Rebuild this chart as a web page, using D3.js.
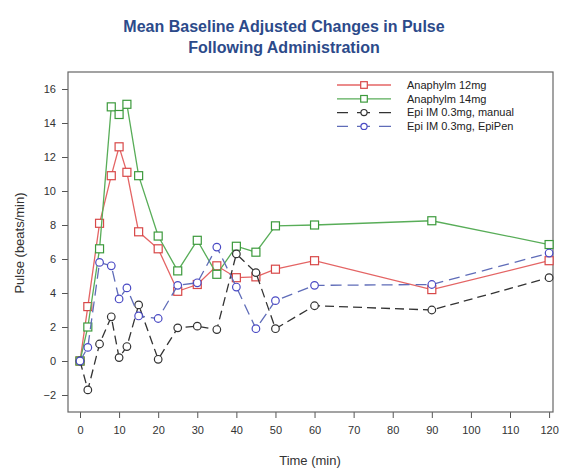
<!DOCTYPE html>
<html>
<head>
<meta charset="utf-8">
<script src="https://cdn.jsdelivr.net/npm/d3@7"></script>
<style>
  body { margin: 0; background: #fff; }
  text { font-family: "Liberation Sans", Arial, sans-serif; }
</style>
</head>
<body>
<div id="chart"></div>
<script>
// Data
const times = [0, 2, 5, 8, 10, 12, 15, 20, 25, 30, 35, 40, 45, 50, 60, 90, 120];
const anaphylm12 = [0, 3.2, 8.1, 10.9, 12.6, 11.1, 7.6, 6.6, 4.1, 4.5, 5.6, 4.9, 4.95, 5.4, 5.9, 4.2, 5.9];
const anaphylm14 = [0, 2.0, 6.6, 14.95, 14.5, 15.1, 10.9, 7.35, 5.3, 7.1, 5.1, 6.75, 6.4, 7.95, 8.0, 8.25, 6.85];
const epiManual = [0, -1.7, 1.0, 2.6, 0.2, 0.85, 3.3, 0.1, 1.95, 2.05, 1.85, 6.3, 5.2, 1.9, 3.25, 3.0, 4.9];
const epiPen = [0, 0.8, 5.8, 5.6, 3.65, 4.3, 2.65, 2.5, 4.45, 4.6, 6.7, 4.35, 1.9, 3.55, 4.45, 4.5, 6.35];
const xTicks = d3.range(0, 121, 10);
const yTicks = d3.range(-2, 17, 2);

const series = [
    { name: "Anaphylm 12mg", values: anaphylm12, line: "#e46464", mark: "#d84848", shape: "square", dash: null },
    { name: "Anaphylm 14mg", values: anaphylm14, line: "#58ad58", mark: "#3c9a3c", shape: "square", dash: null },
    { name: "Epi IM 0.3mg, manual", values: epiManual, line: "#333333", mark: "#333333", shape: "circle", dash: "9,5" },
    { name: "Epi IM 0.3mg, EpiPen", values: epiPen, line: "#5f6cb8", mark: "#4a4ac4", shape: "circle", dash: "11,6" }
];

const width = 567, height = 471;
const plotLeft = 68, plotRight = 553, plotTop = 72, plotBottom = 412;

const svg = d3.select("#chart")
    .append("svg")
    .attr("width", width)
    .attr("height", height);

const x = d3.scaleLinear().domain([-3.07, 121]).range([plotLeft, plotRight]);
const y = d3.scaleLinear().domain([-3, 17]).range([plotBottom, plotTop]);

// Title
svg.append("text")
    .attr("x", 284).attr("y", 32)
    .attr("text-anchor", "middle")
    .style("font-size", "16px").style("font-weight", "bold")
    .attr("fill", "#2c4a8a")
    .text("Mean Baseline Adjusted Changes in Pulse");
svg.append("text")
    .attr("x", 284).attr("y", 53)
    .attr("text-anchor", "middle")
    .style("font-size", "16px").style("font-weight", "bold")
    .attr("fill", "#2c4a8a")
    .text("Following Administration");

// Axes
const xAxis = svg.append("g")
    .attr("transform", `translate(0, ${plotBottom})`)
    .call(d3.axisBottom(x).tickValues(xTicks).tickSize(6).tickPadding(8).tickSizeOuter(0));
const yAxis = svg.append("g")
    .attr("transform", `translate(${plotLeft}, 0)`)
    .call(d3.axisLeft(y).tickValues(yTicks).tickSize(6).tickPadding(6).tickSizeOuter(0));

[xAxis, yAxis].forEach(g => {
    g.select(".domain").remove();
    g.selectAll("line").attr("stroke", "#555");
    g.selectAll("text")
        .style("font-size", "11px")
        .attr("fill", "#333");
});

// Frame
svg.append("rect")
    .attr("x", plotLeft).attr("y", plotTop)
    .attr("width", plotRight - plotLeft).attr("height", plotBottom - plotTop)
    .attr("fill", "none")
    .attr("stroke", "#666")
    .attr("stroke-width", 1.2);

// Axis titles
svg.append("text")
    .attr("x", 310).attr("y", 465)
    .attr("text-anchor", "middle")
    .style("font-size", "13px")
    .attr("fill", "#333")
    .text("Time (min)");
svg.append("text")
    .attr("transform", "translate(24, 243) rotate(-90)")
    .attr("text-anchor", "middle")
    .style("font-size", "13px")
    .attr("fill", "#333")
    .text("Pulse (beats/min)");

const line = d3.line()
    .x((d, i) => x(times[i]))
    .y(d => y(d));

function drawMarker(g, s, cx, cy, half) {
    if (s.shape === "square") {
        g.append("rect")
            .attr("x", cx - half).attr("y", cy - half)
            .attr("width", 2 * half).attr("height", 2 * half)
            .attr("fill", "#fff")
            .attr("stroke", s.mark)
            .attr("stroke-width", 1.2);
    } else {
        g.append("circle")
            .attr("cx", cx).attr("cy", cy)
            .attr("r", half - 0.2)
            .attr("fill", "#fff")
            .attr("stroke", s.mark)
            .attr("stroke-width", 1.2);
    }
}

// Series
series.forEach(s => {
    const g = svg.append("g");
    g.append("path")
        .datum(s.values)
        .attr("d", line)
        .attr("fill", "none")
        .attr("stroke", s.line)
        .attr("stroke-width", 1.3)
        .attr("stroke-dasharray", s.dash);
    s.values.forEach((v, i) => drawMarker(g, s, x(times[i]), y(v), 4));
});

// Legend
const legend = svg.append("g");
series.forEach((s, i) => {
    const ly = 85 + i * 13.8;
    legend.append("line")
        .attr("x1", 337).attr("x2", 391)
        .attr("y1", ly).attr("y2", ly)
        .attr("stroke", s.line)
        .attr("stroke-width", 1.3)
        .attr("stroke-dasharray", s.dash ? "13,9" : null)
        .attr("stroke-dashoffset", s.dash ? 2 : null);
    drawMarker(legend, s, 364, ly, 3.3);
    legend.append("text")
        .attr("x", 407).attr("y", ly)
        .attr("dy", "0.35em")
        .style("font-size", "11px")
        .attr("fill", "#222")
        .text(s.name);
});
</script>
</body>
</html>
